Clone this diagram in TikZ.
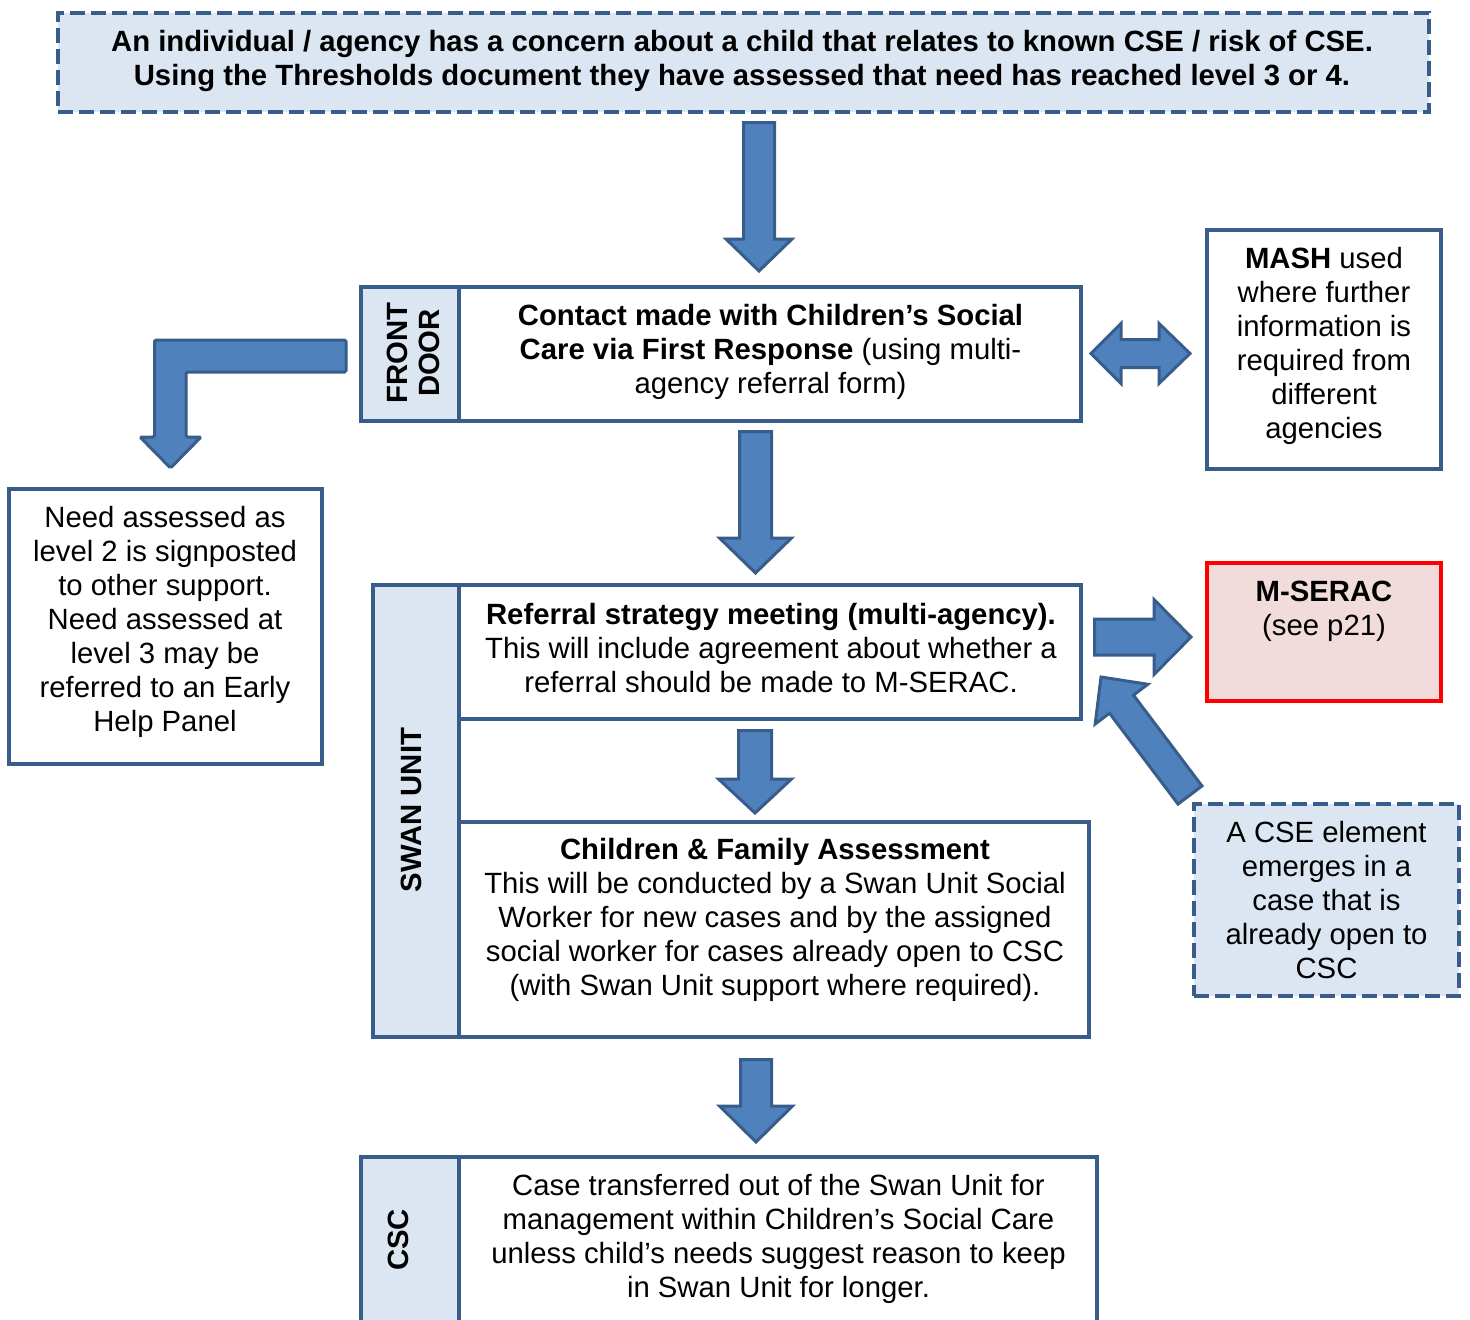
\documentclass[tikz,border=0pt]{standalone}
\usepackage{fontspec}
\setmainfont{Liberation Sans}
\usetikzlibrary{calc}
\definecolor{bdr}{HTML}{385D8A}
\definecolor{afill}{HTML}{4F81BD}
\definecolor{lfill}{HTML}{DCE6F2}
\definecolor{pinkf}{HTML}{F2DCDB}
\definecolor{redb}{HTML}{FF0000}
\tikzset{
  box/.style={draw=bdr, line width=4pt, fill=white, inner sep=0pt, minimum width=#1},
  box/.default=10pt,
  lab/.style={draw=bdr, line width=4pt, fill=lfill, inner sep=0pt},
  dbox/.style={draw=bdr, line width=4pt, fill=lfill, dash pattern=on 15pt off 6pt, inner sep=0pt},
  rbox/.style={draw=redb, line width=4pt, fill=pinkf, inner sep=0pt},
  txt/.style={align=center, font=\fontsize{29.3}{34}\selectfont, inner sep=0pt},
  vlab/.style={align=center, font=\fontsize{29.3}{32}\selectfont\bfseries, inner sep=0pt, rotate=90},
  blk/.style={draw=bdr, line width=3pt, fill=afill, line join=miter},
}
% block arrow: #1 start, #2 tip, #3 half shaft, #4 half head, #5 head length
\newcommand\blockarrow[5]{%
  \coordinate (hcX) at ($(#2)!#5!(#1)$);
  \draw[blk] ($(#1)!#3!90:(#2)$) -- ($(hcX)!#3!90:(#2)$) -- ($(hcX)!#4!90:(#2)$) -- (#2)
    -- ($(hcX)!#4!-90:(#2)$) -- ($(hcX)!#3!-90:(#2)$) -- ($(#1)!#3!-90:(#2)$) -- cycle;}
\begin{document}
\begin{tikzpicture}[x=1pt,y=-1pt]
\useasboundingbox (0,0) rectangle (1470,1320);

% boxes
\node[dbox, minimum width=1371pt, minimum height=99pt] (top) at (743.5,62.5) {};
\node[txt, font=\fontsize{29.3}{34}\selectfont\bfseries] (topT) at (742,61)
  {An individual / agency has a concern about a child that relates to known CSE / risk of CSE.\\
   Using the Thresholds document they have assessed that need has reached level 3 or 4.};

\node[lab, minimum width=98pt, minimum height=134pt] (fd) at (410,354) {};
\node[vlab] (fdT) at (413,353) {FRONT\\DOOR};
\node[box=622pt, minimum height=134pt] (contact) at (770,354) {};
\node[txt] (contactT) at (770.5,352)
  {\textbf{Contact made with Children’s Social}\\
   \textbf{Care via First Response} (using multi-\\
   agency referral form)};

\node[box=234pt, minimum height=239pt] (mash) at (1324,349.5) {};
\node[txt] (mashT) at (1324,346)
  {\textbf{MASH} used\\where further\\information is\\required from\\different\\agencies};

\node[box=313pt, minimum height=275pt] (left) at (165.5,626.5) {};
\node[txt] (leftT) at (165,622)
  {Need assessed as\\level 2 is signposted\\to other support.\\Need assessed at\\level 3 may be\\referred to an Early\\Help Panel};

\node[lab, minimum width=86pt, minimum height=452pt] (swan) at (416,811) {};
\node[vlab] (swanT) at (411,810) {SWAN UNIT};

\node[box=622pt, minimum height=134pt] (ref) at (770,652) {};
\node[txt] (refT) at (771,648)
  {\textbf{Referral strategy meeting (multi-agency).}\\
   This will include agreement about whether a\\
   referral should be made to M-SERAC.};

\node[box=630pt, minimum height=215pt] (cfa) at (774,929.5) {};
\node[txt] (cfaT) at (775,920)
  {\textbf{Children \& Family Assessment}\\
   This will be conducted by a Swan Unit Social\\
   Worker for new cases and by the assigned\\
   social worker for cases already open to CSC\\
   (with Swan Unit support where required).};

\node[rbox, minimum width=234pt, minimum height=138pt] (mserac) at (1324,632) {};
\node[txt] (mseracT) at (1324,611) {\textbf{M-SERAC}\\(see p21)};

\node[dbox, minimum width=265pt, minimum height=192pt] (cse) at (1326.5,900) {};
\node[txt] (cseT) at (1326.5,900.5)
  {A CSE element\\emerges in a\\case that is\\already open to\\CSC};

\node[lab, minimum width=98pt, minimum height=180pt] (csc) at (410,1247) {};
\node[vlab] (cscT) at (398,1240) {CSC};
\node[box=638pt, minimum height=180pt] (cscm) at (778,1247) {};
\node[txt] (cscmT) at (778.5,1239)
  {Case transferred out of the Swan Unit for\\
   management within Children’s Social Care\\
   unless child’s needs suggest reason to keep\\
   in Swan Unit for longer.};

% block arrows
\coordinate (a1s) at (759,122.5);
\coordinate (a1e) at (759,271);
\blockarrow{a1s}{a1e}{15.5pt}{33pt}{32pt}

\coordinate (a2s) at (755.5,431.5);
\coordinate (a2e) at (755.5,573);
\blockarrow{a2s}{a2e}{16pt}{36pt}{35pt}

\coordinate (a3s) at (755,730.5);
\coordinate (a3e) at (755,813);
\blockarrow{a3s}{a3e}{16.5pt}{36.5pt}{34pt}

\coordinate (a4s) at (756,1059.5);
\coordinate (a4e) at (756,1142);
\blockarrow{a4s}{a4e}{15.5pt}{36.5pt}{36pt}

\coordinate (a5s) at (1094.5,637);
\coordinate (a5e) at (1191,637);
\blockarrow{a5s}{a5e}{18pt}{37.5pt}{37pt}

\coordinate (a6s) at (1190,795);
\coordinate (a6e) at (1101,677);
\blockarrow{a6s}{a6e}{15pt}{33pt}{34pt}

% double arrow contact <-> MASH
\coordinate (d1) at (1091,353.5);
\coordinate (d2) at (1190,353.5);
\coordinate (hc1) at ($(d1)!30pt!(d2)$);
\coordinate (hc2) at ($(d2)!31pt!(d1)$);
\draw[blk] (d1) -- ($(hc1)!30pt!90:(d2)$) -- ($(hc1)!14pt!90:(d2)$) -- ($(hc2)!14pt!-90:(d1)$)
  -- ($(hc2)!30pt!-90:(d1)$) -- (d2) -- ($(hc2)!30pt!90:(d1)$) -- ($(hc2)!14pt!90:(d1)$)
  -- ($(hc1)!14pt!-90:(d2)$) -- ($(hc1)!30pt!-90:(d2)$) -- cycle;

% bent arrow from front door to left box
\draw[blk, rounded corners=1.5pt] (346,340) -- (154.5,340) -- (154.5,437) -- (140,437) -- (170.5,468)
  -- (201,437) -- (186,437) -- (186,372) -- (346,372) -- cycle;
\end{tikzpicture}
\end{document}
